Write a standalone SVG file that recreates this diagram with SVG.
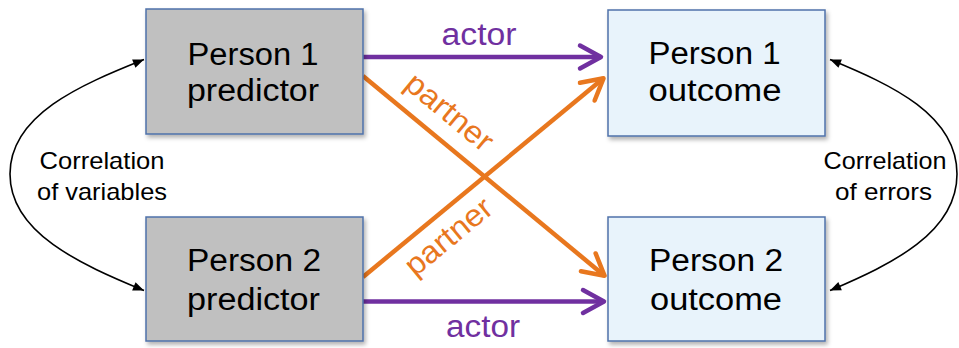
<svg xmlns="http://www.w3.org/2000/svg" width="959" height="348" viewBox="0 0 959 348">
  <style>
    text { font-family: "Liberation Sans", Arial, Helvetica, sans-serif; }
    .box { stroke: #4F72AA; stroke-width: 1.5; filter: url(#shadow); }
    .pred { fill: #C0C0C0; }
    .outc { fill: #E8F3FB; }
    .node-label { font-size: 31px; fill: #000; text-anchor: middle; }
    .side-label { font-size: 24px; fill: #000; text-anchor: middle; }
    .actor { stroke: #7030A0; stroke-width: 4.5; fill: none; marker-end: url(#headPurple); }
    .partner { stroke: #E8771E; stroke-width: 4.5; fill: none; marker-end: url(#headOrange); }
    .corr { stroke: #000; stroke-width: 1.6; fill: none; marker-start: url(#headBlack); marker-end: url(#headBlack); }
    .actor-label { font-size: 31px; fill: #7030A0; text-anchor: middle; }
    .partner-label { font-size: 31px; fill: #E8771E; text-anchor: middle; }
  </style>
  <defs>
    <filter id="shadow" x="-10%" y="-10%" width="125%" height="130%">
      <feDropShadow dx="2" dy="3" stdDeviation="2" flood-color="#000" flood-opacity="0.3"/>
    </filter>
    <marker id="headPurple" markerUnits="userSpaceOnUse" viewBox="-26 -16 32 32" refX="0" refY="0" markerWidth="32" markerHeight="32" orient="auto" overflow="visible">
      <path d="M-21,-11.5 L0,0 L-21,11.5" fill="none" stroke="#7030A0" stroke-width="4.5" stroke-linecap="round" stroke-linejoin="round"/>
    </marker>
    <marker id="headOrange" markerUnits="userSpaceOnUse" viewBox="-26 -16 32 32" refX="0" refY="0" markerWidth="32" markerHeight="32" orient="auto" overflow="visible">
      <path d="M-21,-11.5 L0,0 L-21,11.5" fill="none" stroke="#E8771E" stroke-width="4.5" stroke-linecap="round" stroke-linejoin="round"/>
    </marker>
    <marker id="headBlack" markerUnits="userSpaceOnUse" viewBox="-12 -6 14 12" refX="0" refY="0" markerWidth="14" markerHeight="12" orient="auto-start-reverse" overflow="visible">
      <path d="M-11,-4.5 L0,0 L-11,4.5 Z" fill="#000"/>
    </marker>
  </defs>

  <rect width="959" height="348" fill="#fff"/>

  <!-- connectors -->
  <g id="connectors">
    <path class="actor" d="M363,57 L601,57"/>
    <path class="actor" d="M363,301.5 L604,301.5"/>
    <path class="partner" d="M363,76 L604.5,275.7"/>
    <path class="partner" d="M363,277 L603.5,78.3"/>
    <path class="corr" d="M144,59.5 C80,85 10,115 10,174 C10,233 80,264 144,290.5"/>
    <path class="corr" d="M830,59.5 C892,85 957,115 957,174 C957,233 892,264 830,290.5"/>
  </g>

  <!-- connector labels -->
  <g id="labels">
    <text class="actor-label" x="479" y="45" textLength="75" lengthAdjust="spacingAndGlyphs">actor</text>
    <text class="actor-label" x="483" y="337" textLength="74" lengthAdjust="spacingAndGlyphs">actor</text>
    <text class="partner-label" transform="translate(443,120) rotate(39.6)" textLength="104" lengthAdjust="spacingAndGlyphs">partner</text>
    <text class="partner-label" transform="translate(455,244.5) rotate(-39.5)" textLength="104" lengthAdjust="spacingAndGlyphs">partner</text>
    <text class="side-label" x="102" y="169" textLength="125" lengthAdjust="spacingAndGlyphs">Correlation</text>
    <text class="side-label" x="102" y="200" textLength="130" lengthAdjust="spacingAndGlyphs">of variables</text>
    <text class="side-label" x="885" y="169" textLength="123" lengthAdjust="spacingAndGlyphs">Correlation</text>
    <text class="side-label" x="883.5" y="200" textLength="97" lengthAdjust="spacingAndGlyphs">of errors</text>
  </g>

  <!-- nodes -->
  <g id="p1-predictor">
    <rect class="box pred" x="146" y="9" width="217" height="125"/>
    <text class="node-label" x="253" y="65" textLength="131" lengthAdjust="spacingAndGlyphs">Person 1</text>
    <text class="node-label" x="253" y="101" textLength="132" lengthAdjust="spacingAndGlyphs">predictor</text>
  </g>
  <g id="p1-outcome">
    <rect class="box outc" x="608" y="10" width="217" height="126"/>
    <text class="node-label" x="714.5" y="64" textLength="132" lengthAdjust="spacingAndGlyphs">Person 1</text>
    <text class="node-label" x="715" y="101" textLength="133" lengthAdjust="spacingAndGlyphs">outcome</text>
  </g>
  <g id="p2-predictor">
    <rect class="box pred" x="146" y="217" width="217" height="124"/>
    <text class="node-label" x="254" y="271" textLength="134" lengthAdjust="spacingAndGlyphs">Person 2</text>
    <text class="node-label" x="253.5" y="310" textLength="133" lengthAdjust="spacingAndGlyphs">predictor</text>
  </g>
  <g id="p2-outcome">
    <rect class="box outc" x="608" y="217" width="217" height="124"/>
    <text class="node-label" x="716" y="271" textLength="134" lengthAdjust="spacingAndGlyphs">Person 2</text>
    <text class="node-label" x="716" y="310" textLength="132" lengthAdjust="spacingAndGlyphs">outcome</text>
  </g>
</svg>
